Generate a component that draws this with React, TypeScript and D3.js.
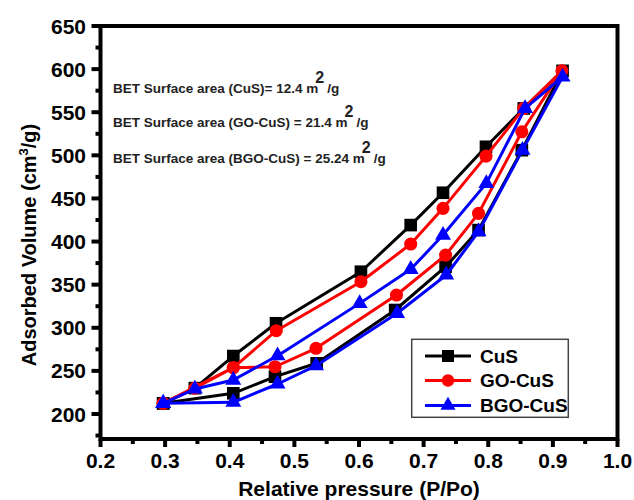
import React from "react";
import * as d3 from "d3";

const xTicks = [0.2, 0.3, 0.4, 0.5, 0.6, 0.7, 0.8, 0.9, 1.0];
const yTicks = [200, 250, 300, 350, 400, 450, 500, 550, 600, 650];

const pressureCuS = [0.297, 0.4055, 0.47, 0.5345, 0.656, 0.734, 0.785, 0.852, 0.915, 0.855, 0.7965, 0.73, 0.68, 0.603, 0.4716, 0.4055, 0.346, 0.297];
const volumeCuS = [212.4, 224, 243.3, 258.8, 320.6, 370.8, 413.3, 506, 598, 554.4, 509.9, 456.6, 419.1, 365.0, 305.2, 267.2, 230, 212.4];

const pressureGO = [0.297, 0.4055, 0.47, 0.5335, 0.658, 0.734, 0.785, 0.852, 0.914, 0.855, 0.7965, 0.73, 0.68, 0.603, 0.472, 0.4055, 0.346, 0.297];
const volumeGO = [212.4, 253.7, 254.8, 276.2, 338, 384.3, 432.7, 527.3, 598, 554.4, 499.1, 438.5, 397.1, 353.4, 296.6, 253.7, 229.8, 212.4];

const pressureBGO = [0.297, 0.4055, 0.474, 0.5335, 0.659, 0.735, 0.785, 0.853, 0.915, 0.857, 0.797, 0.73, 0.68, 0.601, 0.474, 0.4055, 0.346, 0.297];
const volumeBGO = [212.4, 213.6, 234.8, 256, 316.8, 361.2, 411.4, 506, 591, 554.4, 467.5, 407.5, 367.8, 328.3, 267.6, 239.4, 229, 212.4];

const seriesNames = ["CuS", "GO-CuS", "BGO-CuS"];
const seriesColors = ["#000000", "#ff0000", "#0000ff"];
const betLabels = [
  "BET Surface area (CuS)= 12.4 m",
  "BET Surface area (GO-CuS) = 21.4 m",
  "BET Surface area (BGO-CuS) = 25.24 m",
];

const FONT = "'Liberation Sans', Arial, sans-serif";

export default function App() {
  const W = 634, H = 500;
  const left = 100.5, right = 617.5, top = 26, bottom = 439;
  const x = d3.scaleLinear().domain([0.2, 1.0]).range([left, right]);
  const y = d3.scaleLinear().domain([171, 650]).range([bottom, top]);

  const series = [
    { px: pressureCuS, py: volumeCuS, sym: d3.symbolSquare, size: 160 },
    { px: pressureGO, py: volumeGO, sym: d3.symbolCircle, size: 135 },
    { px: pressureBGO, py: volumeBGO, sym: d3.symbolTriangle, size: 110 },
  ];
  const line = d3.line<[number, number]>().x(d => x(d[0])).y(d => y(d[1]));

  const xMinor = d3.range(0.25, 1.0, 0.1);
  const yMinor = d3.range(175, 650, 50);

  const legendRows = [356, 380.5, 405.5];
  const betY = [93.3, 127.3, 162.7];

  return (
    <svg width={W} height={H} style={{ position: "absolute", left: 0, top: 0, background: "#fff" }}>
      <rect x={0} y={0} width={W} height={H} fill="#fff" />
      {series.map((s, i) => {
        const pts = s.px.map((p, j) => [p, s.py[j]] as [number, number]);
        return (
          <g key={i}>
            <path d={line(pts) || ""} fill="none" stroke={seriesColors[i]} strokeWidth={3} strokeLinejoin="round" />
            {pts.map((p, j) => (
              <path key={j} d={d3.symbol(s.sym, s.size)() || ""} transform={`translate(${x(p[0])},${y(p[1])})`} fill={seriesColors[i]} />
            ))}
          </g>
        );
      })}
      <rect x={left} y={top} width={right - left} height={bottom - top} fill="none" stroke="#000" strokeWidth={4} />
      {xTicks.map(t => (
        <g key={"xt" + t}>
          <line x1={x(t)} x2={x(t)} y1={bottom} y2={bottom + 8} stroke="#000" strokeWidth={4} />
          <text x={x(t)} y={468} textAnchor="middle" fontFamily={FONT} fontWeight="bold" fontSize={21}>{t.toFixed(1)}</text>
        </g>
      ))}
      {xMinor.map(t => (
        <line key={"xm" + t} x1={x(t)} x2={x(t)} y1={bottom} y2={bottom + 5} stroke="#000" strokeWidth={4} />
      ))}
      {yTicks.map(t => (
        <g key={"yt" + t}>
          <line x1={left - 9} x2={left} y1={y(t)} y2={y(t)} stroke="#000" strokeWidth={4} />
          <text x={86} y={y(t)} dy="0.36em" textAnchor="end" fontFamily={FONT} fontWeight="bold" fontSize={21}>{t}</text>
        </g>
      ))}
      {yMinor.map(t => (
        <line key={"ym" + t} x1={left - 5} x2={left} y1={y(t)} y2={y(t)} stroke="#000" strokeWidth={4} />
      ))}
      <text x={359} y={496} textAnchor="middle" fontFamily={FONT} fontWeight="bold" fontSize={21}>Relative pressure (P/Po)</text>
      <text transform="translate(36,245) rotate(-90)" textAnchor="middle" fontFamily={FONT} fontWeight="bold" fontSize={20}>
        Adsorbed Volume (cm<tspan dy={-8} fontSize={13}>3</tspan><tspan dy={8}>/g)</tspan>
      </text>
      {betLabels.map((b, i) => (
        <text key={"bet" + i} x={113} y={betY[i]} fontFamily={FONT} fontWeight="bold" fontSize={13.5} fill="#222">
          {b}
          <tspan dx={-3} dy={-10} fontSize={16}>2</tspan>
          <tspan dx={3} dy={10}>/g</tspan>
        </text>
      ))}
      <rect x={411.7} y={339.3} width={156.6} height={78} fill="#fff" stroke="#444" strokeWidth={1.5} />
      {seriesNames.map((n, i) => (
        <g key={"lg" + i}>
          <line x1={425} x2={471} y1={legendRows[i]} y2={legendRows[i]} stroke={seriesColors[i]} strokeWidth={3} />
          <path d={d3.symbol(series[i].sym, series[i].size * 0.9)() || ""} transform={`translate(448,${legendRows[i]})`} fill={seriesColors[i]} />
          <text x={480} y={legendRows[i]} dy="0.36em" fontFamily={FONT} fontWeight="bold" fontSize={19}>{n}</text>
        </g>
      ))}
    </svg>
  );
}
